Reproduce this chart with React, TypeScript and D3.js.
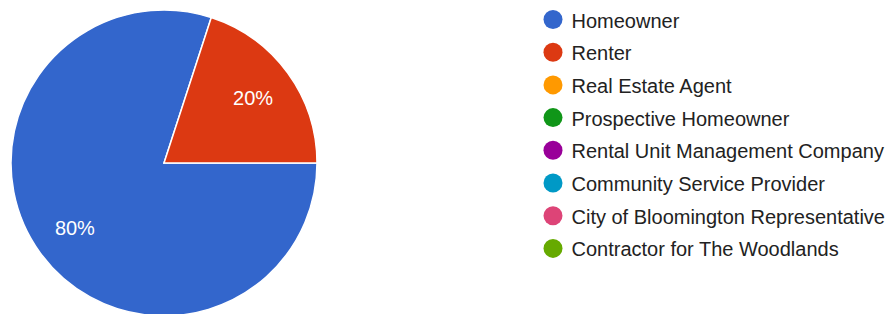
import React from 'react';
import * as d3 from 'd3';

// responses by role
const categories = [
  'Homeowner',
  'Renter',
  'Real Estate Agent',
  'Prospective Homeowner',
  'Rental Unit Management Company',
  'Community Service Provider',
  'City of Bloomington Representative',
  'Contractor for The Woodlands',
];
const counts = [4, 1, 0, 0, 0, 0, 0, 0];
const colors = ['#3366cc', '#dc3912', '#ff9900', '#109618', '#990099', '#0099c6', '#dd4477', '#66aa00'];

const width = 893;
const height = 314;
const cx = 164;
const cy = 163;
const radius = 153;

export default function App() {
  const total = d3.sum(counts);
  const slices = d3
    .pie<number>()
    .sort(null)
    .startAngle(Math.PI / 2)
    .endAngle(Math.PI / 2 + 2 * Math.PI)(counts);

  const arc = d3.arc<d3.PieArcDatum<number>>().innerRadius(0).outerRadius(radius);
  const labelArc = d3
    .arc<d3.PieArcDatum<number>>()
    .innerRadius(radius * 0.72)
    .outerRadius(radius * 0.72);

  const legendY = d3.scalePoint<string>().domain(categories).range([19.5, 248.4]);

  return (
    <svg
      width={width}
      height={height}
      style={{ position: 'absolute', left: 0, top: 0, background: '#fff' }}
      fontFamily="'Liberation Sans', Arial, sans-serif"
    >
      <g transform={`translate(${cx},${cy})`}>
        {slices
          .filter((s) => s.value > 0)
          .map((s) => (
            <path key={s.index} d={arc(s) || ''} fill={colors[s.index]} stroke="#fff" strokeWidth={1.5} />
          ))}
        {slices
          .filter((s) => s.value > 0)
          .map((s) => {
            const [lx, ly] = labelArc.centroid(s);
            return (
              <text
                key={'l' + s.index}
                x={lx}
                y={ly}
                fill="#fff"
                fontSize={20}
                textAnchor="middle"
                dominantBaseline="central"
              >
                {d3.format('.0%')(s.value / total)}
              </text>
            );
          })}
      </g>
      <g>
        {categories.map((c, i) => (
          <g key={c} transform={`translate(0,${legendY(c)})`}>
            <circle cx={553} cy={0} r={9.5} fill={colors[i]} />
            <text x={571.5} y={1} fontSize={20} fill="#222" dominantBaseline="central">
              {c}
            </text>
          </g>
        ))}
      </g>
    </svg>
  );
}
